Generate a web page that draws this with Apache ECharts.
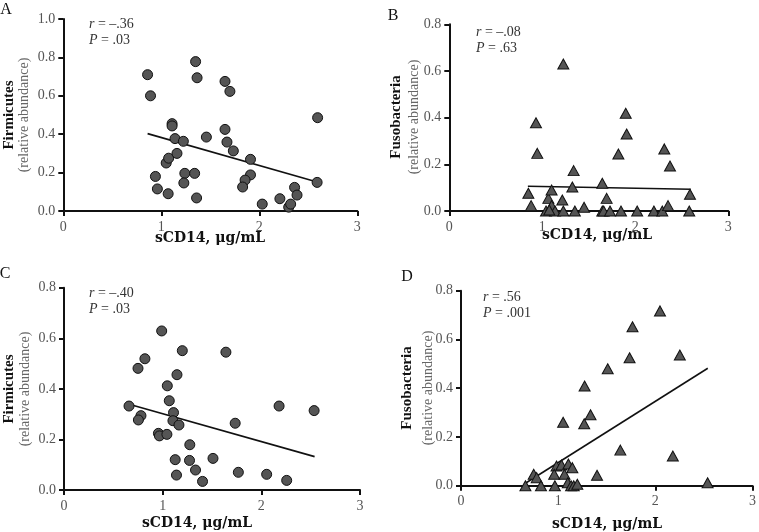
<!DOCTYPE html>
<html>
<head>
<meta charset="utf-8">
<script src="https://cdn.jsdelivr.net/npm/echarts@6/dist/echarts.min.js"></script>
<style>
html,body{margin:0;padding:0;background:#fff;}
#chart{width:759px;height:532px;}
</style>
</head>
<body>
<div id="chart"></div>
<script>
// ---------- DATA ----------
const xTicks = [0, 1, 2, 3];
const xAxisTitle = 'sCD14, μg/mL';
const panelLetters = ['A', 'B', 'C', 'D'];
const yTitles = ['Firmicutes', 'Fusobacteria', 'Firmicutes', 'Fusobacteria'];
const ySubTitle = '(relative abundance)';
const statR = ['–.36', '–.08', '–.40', '.56'];
const statP = ['.03', '.63', '.03', '.001'];
const yMax = [1.0, 0.8, 0.8, 0.8];

// Panel A: Firmicutes vs sCD14 (circles)
const aX = [0.86,0.89,0.94,0.96,1.05,1.075,1.07,1.11,1.11,1.14,1.16,1.225,1.24,1.23,1.35,1.365,1.34,1.36,1.46,1.65,1.70,1.65,1.67,1.735,1.91,1.91,1.855,1.83,2.03,2.21,2.30,2.32,2.36,2.385,2.595,2.59];
const aY = [0.71,0.60,0.18,0.115,0.25,0.275,0.09,0.455,0.443,0.377,0.30,0.363,0.196,0.146,0.778,0.694,0.196,0.068,0.385,0.675,0.623,0.425,0.359,0.313,0.269,0.188,0.161,0.125,0.036,0.064,0.02,0.036,0.123,0.083,0.486,0.149];
const aFitX = [0.86, 2.59];
const aFitY = [0.403, 0.151];

// Panel B: Fusobacteria vs sCD14 (triangles)
const bX = [1.226,0.932,0.946,0.85,0.88,1.04,1.065,1.10,1.10,1.137,1.215,1.226,1.075,1.337,1.323,1.35,1.449,1.645,1.692,1.645,1.66,1.728,1.818,1.897,1.907,1.846,2.02,2.20,2.29,2.312,2.373,2.352,2.588,2.58];
const bY = [0.630,0.378,0.247,0.076,0.023,0.0,0.054,0.090,0.023,0.0,0.047,0.0,0.004,0.173,0.103,0.0,0.016,0.119,0.054,0.0,0.0,0.0,0.244,0.419,0.330,0.0,0.0,0.0,0.0,0.266,0.193,0.023,0.072,0.0];
const bFitX = [0.845, 2.596];
const bFitY = [0.106, 0.093];

// Panel C: Firmicutes vs sCD14 (circles)
const cX = [0.99,1.199,1.641,0.82,0.75,1.145,1.047,1.067,0.659,1.11,0.78,0.754,1.104,1.165,2.18,2.535,1.735,0.957,0.967,1.043,1.275,1.127,1.272,1.51,1.14,1.333,1.404,1.767,2.054,2.257];
const cY = [0.629,0.551,0.545,0.519,0.481,0.456,0.412,0.353,0.332,0.306,0.294,0.277,0.274,0.257,0.332,0.314,0.264,0.224,0.214,0.220,0.179,0.120,0.117,0.125,0.059,0.079,0.034,0.070,0.062,0.038];
const cFitX = [0.66, 2.54];
const cFitY = [0.339, 0.132];

// Panel D: Fusobacteria vs sCD14 (triangles)
const dX = [2.048,1.765,2.252,1.735,1.51,1.272,1.333,1.051,1.268,1.64,2.18,2.538,1.40,0.983,1.034,1.105,1.146,0.959,1.065,0.748,0.779,0.663,0.823,0.966,1.099,1.133,1.16,1.197];
const dY = [0.717,0.652,0.536,0.525,0.480,0.409,0.291,0.260,0.254,0.146,0.122,0.012,0.043,0.081,0.085,0.089,0.074,0.047,0.047,0.047,0.033,0.0,0.0,0.0,0.012,0.0,0.0,0.006];
const dFitX = [0.663, 2.54];
const dFitY = [0.010, 0.482];

// ---------- LAYOUT ----------
const FONT = '"Liberation Serif","DejaVu Serif",serif';
const TFONT = '"DejaVu Serif","Liberation Serif",serif';
const grids = [
  {left: 63.3, top: 19, width: 294, height: 192},
  {left: 449.3, top: 24.3, width: 279, height: 186.7},
  {left: 64, top: 287.7, width: 296, height: 202.3},
  {left: 461, top: 290.7, width: 294, height: 195}
];
const pts = [[aX, aY], [bX, bY], [cX, cY], [dX, dY]];
const fits = [[aFitX, aFitY], [bFitX, bFitY], [cFitX, cFitY], [dFitX, dFitY]];
const symbols = ['circle', 'triangle', 'circle', 'triangle'];

const letterPos = [[6, 10], [393, 16], [5, 274], [407, 277]];
const yTitlePos = [[9, 24, 115], [396, 414, 117], [9, 25, 389], [407, 428, 388]];
const xTitlePos = [[210, 238], [597, 235], [197, 523], [607, 524]];
const statPos = [[89, 24, 40], [476, 32, 48], [89, 293, 309], [483, 297, 313]];

const zip = (xs, ys) => xs.map((x, i) => [x, ys[i]]);

const xAxes = grids.map((g, i) => ({
  gridIndex: i, type: 'value', min: 0, max: 3, interval: 1,
  axisLine: {show: true, onZero: false, lineStyle: {color: '#111', width: 2}},
  axisTick: {show: true, length: 5, lineStyle: {color: '#111', width: 2}},
  splitLine: {show: false},
  axisLabel: {color: '#555', fontFamily: FONT, fontSize: 14, margin: 9}
}));
const yAxes = grids.map((g, i) => ({
  gridIndex: i, type: 'value', min: 0, max: yMax[i], interval: 0.2,
  axisLine: {show: true, onZero: false, lineStyle: {color: '#111', width: 2}},
  axisTick: {show: true, length: 5, lineStyle: {color: '#111', width: 2}},
  splitLine: {show: false},
  axisLabel: {color: '#555', fontFamily: FONT, fontSize: 14, margin: 8,
    formatter: v => v.toFixed(1)}
}));

const series = [];
grids.forEach((g, i) => {
  series.push({
    type: 'line', xAxisIndex: i, yAxisIndex: i,
    data: zip(fits[i][0], fits[i][1]), symbol: 'none', silent: true,
    lineStyle: {color: '#111', width: 1.6}, z: 2
  });
  series.push({
    type: 'scatter', xAxisIndex: i, yAxisIndex: i,
    data: zip(pts[i][0], pts[i][1]),
    symbol: symbols[i],
    symbolSize: symbols[i] === 'circle' ? 10 : [11, 10],
    itemStyle: {color: '#555', borderColor: '#111', borderWidth: 1, opacity: 1},
    z: 3
  });
});

const graphics = [];
grids.forEach((g, i) => {
  graphics.push({type: 'text', x: letterPos[i][0], y: letterPos[i][1],
    style: {text: panelLetters[i], font: '16px ' + FONT, fill: '#111', align: 'center', verticalAlign: 'middle'}});
  graphics.push({type: 'text', x: yTitlePos[i][0], y: yTitlePos[i][2], rotation: Math.PI / 2,
    style: {text: yTitles[i], font: 'bold 15px ' + FONT, fill: '#111', align: 'center', verticalAlign: 'middle'}});
  graphics.push({type: 'text', x: yTitlePos[i][1], y: yTitlePos[i][2], rotation: Math.PI / 2,
    style: {text: ySubTitle, font: '14px ' + FONT, fill: '#666', align: 'center', verticalAlign: 'middle'}});
  graphics.push({type: 'text', x: xTitlePos[i][0], y: xTitlePos[i][1],
    style: {text: xAxisTitle, font: 'bold 14px ' + TFONT, fill: '#111', align: 'center', verticalAlign: 'middle'}});
  graphics.push({type: 'text', x: statPos[i][0], y: statPos[i][1],
    style: {text: '{i|r} = ' + statR[i], font: '14px ' + FONT, fill: '#333', verticalAlign: 'middle',
      rich: {i: {fontStyle: 'italic', fontFamily: FONT, fontSize: 14, fill: '#333'}}}});
  graphics.push({type: 'text', x: statPos[i][0], y: statPos[i][2],
    style: {text: '{i|P} = ' + statP[i], font: '14px ' + FONT, fill: '#333', verticalAlign: 'middle',
      rich: {i: {fontStyle: 'italic', fontFamily: FONT, fontSize: 14, fill: '#333'}}}});
});

const chart = echarts.init(document.getElementById('chart'), null, {renderer: 'canvas'});
chart.setOption({
  backgroundColor: '#fff',
  animation: false,
  grid: grids.map(g => Object.assign({containLabel: false}, g)),
  xAxis: xAxes,
  yAxis: yAxes,
  series: series,
  graphic: graphics
});
</script>
</body>
</html>
